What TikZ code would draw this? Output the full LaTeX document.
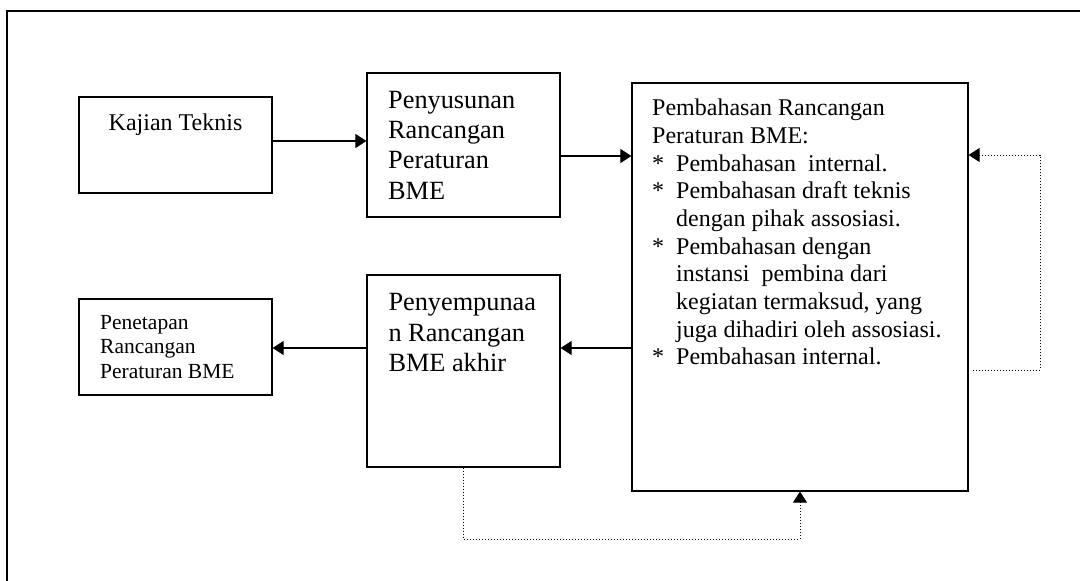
\documentclass[tikz,border=0pt]{standalone}
\usepackage{fontspec}
\setmainfont{Liberation Serif}
\usetikzlibrary{arrows.meta}

% stacked lines of text whose baseline is the first line's baseline
\newcommand{\stacklines}[3]{{\fontsize{#1}{#2}\selectfont\begin{tabular}[t]{@{}l@{}}#3\end{tabular}}}
\newcommand{\bul}{\makebox[24pt][l]{*}}
\newcommand{\ind}{\hspace*{24pt}}

\tikzset{
  stepbox/.style={draw, rectangle, line width=1.2pt, inner sep=0pt},
  txt/.style={inner sep=0pt, anchor=base west},
  flow/.style={line width=1.1pt, -{Triangle[length=11pt,width=14pt]}},
  back/.style={line width=1pt, dash pattern=on 1pt off 2pt, -{Triangle[length=11pt,width=14pt]}}
}

\begin{document}
\begin{tikzpicture}[x=1pt,y=-1pt]
\useasboundingbox (0,0) rectangle (1080,581);

% outer frame, running past the right and bottom edges
\begin{scope}
  \clip (0,0) rectangle (1080,581);
  \draw[line width=1.2pt] (7,11) rectangle (1110,620);
\end{scope}

% process boxes
\node[stepbox, minimum width=193pt, minimum height=96pt]  (kajian) at (175.5,145) {};
\node[stepbox, minimum width=193pt, minimum height=144pt] (susun)  at (463.5,145) {};
\node[stepbox, minimum width=336pt, minimum height=408pt] (bahas)  at (800,287) {};
\node[stepbox, minimum width=193pt, minimum height=192pt] (sempurna) at (463.5,371) {};
\node[stepbox, minimum width=193pt, minimum height=96pt]  (tetap)  at (175.5,347) {};

% box texts
\node[inner sep=0pt, anchor=base] (kajianT) at (175.5,130)
  {\fontsize{24}{27.7}\selectfont Kajian Teknis};
\node[txt] (susunT) at (388,108.3)
  {\stacklines{26.3}{30.3}{Penyusunan\\Rancangan\\Peraturan\\BME}};
\node[txt] (bahasT) at (652,115.7)
  {\stacklines{24}{27.7}{Pembahasan Rancangan\\
   Peraturan BME:\\
   \bul Pembahasan\ \ internal.\\
   \bul Pembahasan draft teknis\\
   \ind dengan pihak assosiasi.\\
   \bul Pembahasan dengan\\
   \ind instansi\ \ pembina dari\\
   \ind kegiatan termaksud, yang\\
   \ind juga dihadiri oleh assosiasi.\\
   \bul Pembahasan internal.}};
\node[txt] (sempurnaT) at (388.3,310.7)
  {\stacklines{26.3}{30.5}{Penyempunaa\\n Rancangan\\BME akhir}};
\node[txt] (tetapT) at (100,329.3)
  {\stacklines{21.5}{24.5}{Penetapan\\Rancangan\\Peraturan BME}};

% main flow
\draw[flow] (kajian.east |- 0,141) -- (susun.west |- 0,141);
\draw[flow] (susun.east |- 0,156) -- (bahas.west |- 0,156);
\draw[flow] (bahas.west |- 0,348) -- (sempurna.east |- 0,348);
\draw[flow] (sempurna.west |- 0,348) -- (tetap.east |- 0,348);

% dotted feedback loops
\coordinate (rloopA) at (1040,370);
\coordinate (rloopB) at (1040,155);
\draw[back] ([xshift=4pt]bahas.east |- rloopA) -- (rloopA) -- (rloopB) -- (bahas.east |- rloopB);
\coordinate (bloopA) at (463.5,539);
\coordinate (bloopB) at (800,539);
\draw[back] (sempurna.south) -- (bloopA) -- (bloopB) -- (bahas.south);
\end{tikzpicture}
\end{document}
